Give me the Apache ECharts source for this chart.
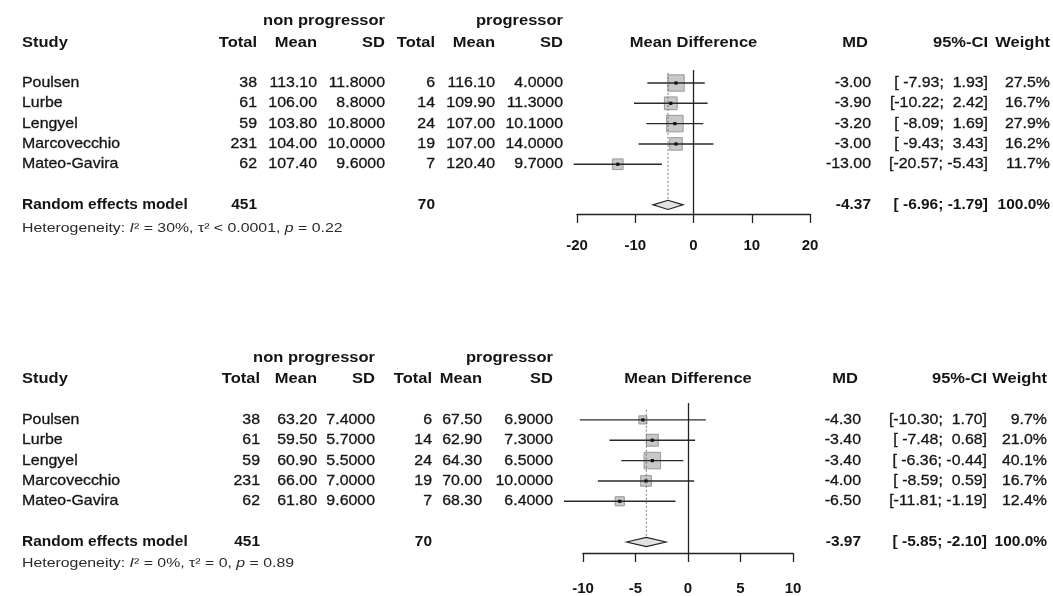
<!DOCTYPE html>
<html>
<head>
<meta charset="utf-8">
<script src="https://cdn.jsdelivr.net/npm/echarts@6/dist/echarts.min.js"></script>
<style>
  html, body { margin: 0; background: #fff; }
  #chart { width: 1053px; height: 596px; }
</style>
</head>
<body>
<div id="chart"></div>
<script>
// studies (same in both panels)
var studies = ['Poulsen', 'Lurbe', 'Lengyel', 'Marcovecchio', 'Mateo-Gavira'];
var nonTotal = [38, 61, 59, 231, 62];
var proTotal = [6, 14, 24, 19, 7];
var sumTotals = [451, 70];

// panel A (top)
var aNonMean = [113.10, 106.00, 103.80, 104.00, 107.40];
var aNonSD = [11.8, 8.8, 10.8, 10.0, 9.6];
var aProMean = [116.10, 109.90, 107.00, 107.00, 120.40];
var aProSD = [4.0, 11.3, 10.1, 14.0, 9.7];
var aMD = [-3.00, -3.90, -3.20, -3.00, -13.00];
var aLo = [-7.93, -10.22, -8.09, -9.43, -20.57];
var aHi = [1.93, 2.42, 1.69, 3.43, -5.43];
var aWeight = [27.5, 16.7, 27.9, 16.2, 11.7];
var aRandom = [-4.37, -6.96, -1.79]; // md, lo, hi
var aHet = ['30%', '< 0.0001', '0.22'];
var aTicks = [-20, 20, 10];

// panel B (bottom)
var bNonMean = [63.20, 59.50, 60.90, 66.00, 61.80];
var bNonSD = [7.4, 5.7, 5.5, 7.0, 9.6];
var bProMean = [67.50, 62.90, 64.30, 70.00, 68.30];
var bProSD = [6.9, 7.3, 6.5, 10.0, 6.4];
var bMD = [-4.30, -3.40, -3.40, -4.00, -6.50];
var bLo = [-10.30, -7.48, -6.36, -8.59, -11.81];
var bHi = [1.70, 0.68, -0.44, 0.59, -1.19];
var bWeight = [9.7, 21.0, 40.1, 16.7, 12.4];
var bRandom = [-3.97, -5.85, -2.10];
var bHet = ['0%', '= 0', '0.89'];
var bTicks = [-10, 10, 5];

var RE_ROW = 6;
var FONT = '"Liberation Sans", Arial, sans-serif';
var INK = '#141414';

var panels = [
  {nonMean: aNonMean, nonSD: aNonSD, proMean: aProMean, proSD: aProSD, md: aMD, lo: aLo, hi: aHi, w: aWeight,
   re: aRandom, het: aHet, ticks: aTicks, hetRow: 7.15,
   grid: {left: 577, top: 70, width: 233, height: 144}, yRange: [-0.64, 6.45], labelMargin: 24,
   col: {total: 257, mean: 317, sd: 385, total2: 435, mean2: 495, sd2: 563, md: 871, ci: 988, w: 1050}},
  {nonMean: bNonMean, nonSD: bNonSD, proMean: bProMean, proSD: bProSD, md: bMD, lo: bLo, hi: bHi, w: bWeight,
   re: bRandom, het: bHet, ticks: bTicks, hetRow: 7.05,
   grid: {left: 583, top: 403, width: 210, height: 151}, yRange: [-0.83, 6.54], labelMargin: 28,
   col: {total: 260, mean: 317, sd: 375, total2: 432, mean2: 482, sd2: 553, md: 861, ci: 987, w: 1047}}
];

function pad(s, n) {
  while (s.length < n) s = ' ' + s;
  return s;
}

function ciText(lo, hi, loW, hiW) {
  return '[' + pad(lo.toFixed(2), loW) + '; ' + pad(hi.toFixed(2), hiW) + ']';
}

var chart = echarts.init(document.getElementById('chart'));

var grids = [], xAxes = [], yAxes = [], series = [];

panels.forEach(function (p, g) {
  grids.push(p.grid);
  xAxes.push({
    type: 'value', gridIndex: g, min: p.ticks[0], max: p.ticks[1], interval: p.ticks[2],
    splitLine: {show: false},
    axisLine: {show: true, onZero: false, lineStyle: {color: '#222', width: 1.3}},
    axisTick: {show: true, length: 9, lineStyle: {color: '#222', width: 1.3}},
    axisLabel: {color: INK, fontFamily: FONT, fontSize: 15, fontWeight: 'bold', margin: p.labelMargin}
  });
  yAxes.push({type: 'value', gridIndex: g, inverse: true, min: p.yRange[0], max: p.yRange[1], show: false});

  var maxW = Math.max.apply(null, p.w);
  var rows = p.md.map(function (m, i) { return [m, p.lo[i], p.hi[i], p.w[i], i]; });

  series.push({
    type: 'custom', xAxisIndex: g, yAxisIndex: g, data: rows, clip: false, silent: true,
    renderItem: function (params, api) {
      var c = api.coord([api.value(0), api.value(4)]);
      var l = api.coord([api.value(1), api.value(4)]);
      var h = api.coord([api.value(2), api.value(4)]);
      var s = 16.5 * Math.sqrt(api.value(3) / maxW);
      return {type: 'group', children: [
        {type: 'rect', shape: {x: c[0] - s / 2, y: c[1] - s / 2, width: s, height: s},
         style: {fill: '#c8c8c8', stroke: '#999', lineWidth: 1}},
        {type: 'line', shape: {x1: l[0], y1: c[1], x2: h[0], y2: c[1]},
         style: {stroke: '#2a2a2a', lineWidth: 1.4}},
        {type: 'rect', shape: {x: c[0] - 1.6, y: c[1] - 1.6, width: 3.2, height: 3.2},
         style: {fill: '#111'}}
      ]};
    },
    markLine: {
      silent: true, symbol: 'none', label: {show: false},
      lineStyle: {color: '#222', width: 1.3, type: 'solid'},
      data: [{xAxis: 0}]
    }
  });

  series.push({
    type: 'custom', xAxisIndex: g, yAxisIndex: g, clip: false, silent: true,
    data: [[p.re[0], p.re[1], p.re[2], RE_ROW]],
    renderItem: function (params, api) {
      var row = api.value(3);
      var c = api.coord([api.value(0), row]);
      var l = api.coord([api.value(1), row]);
      var h = api.coord([api.value(2), row]);
      var top = api.coord([api.value(0), -0.5]);
      var dh = 4.6;
      return {type: 'group', children: [
        {type: 'line', shape: {x1: c[0], y1: top[1], x2: c[0], y2: c[1] - dh},
         style: {stroke: '#777', lineWidth: 1, lineDash: [2, 2]}},
        {type: 'polygon', shape: {points: [[l[0], c[1]], [c[0], c[1] - dh], [h[0], c[1]], [c[0], c[1] + dh]]},
         style: {fill: '#e2e2e2', stroke: '#222', lineWidth: 1.2}}
      ]};
    }
  });
});

chart.setOption({
  animation: false,
  backgroundColor: '#fff',
  grid: grids,
  xAxis: xAxes,
  yAxis: yAxes,
  series: series
});

// table text, placed on the rows of each panel's y axis
// kind: 0 = regular cell, 1 = bold header, 2 = bold summary row
var texts = [];
function txt(g, x, row, s, align, kind) {
  var y = chart.convertToPixel({gridIndex: g}, [0, row])[1];
  var bold = kind > 0;
  texts.push({
    type: 'text', x: x, y: y, silent: true,
    scaleX: kind === 1 ? 1.1 : (kind === 2 ? 1.03 : 1.06),
    style: {
      text: s, fill: INK, font: (bold ? 'bold ' : '') + '15px ' + FONT,
      stroke: bold ? null : INK, lineWidth: bold ? 0 : 0.3,
      align: align, textAlign: align, verticalAlign: 'middle', textVerticalAlign: 'middle'
    }
  });
}

panels.forEach(function (p, g) {
  var c = p.col;
  var zeroX = chart.convertToPixel({gridIndex: g}, [0, 0])[0];
  var h1 = -3.05, h2 = -2;
  txt(g, c.sd, h1, 'non progressor', 'right', 1);
  txt(g, c.sd2, h1, 'progressor', 'right', 1);
  txt(g, 22, h2, 'Study', 'left', 1);
  txt(g, c.total, h2, 'Total', 'right', 1);
  txt(g, c.mean, h2, 'Mean', 'right', 1);
  txt(g, c.sd, h2, 'SD', 'right', 1);
  txt(g, c.total2, h2, 'Total', 'right', 1);
  txt(g, c.mean2, h2, 'Mean', 'right', 1);
  txt(g, c.sd2, h2, 'SD', 'right', 1);
  txt(g, zeroX, h2, 'Mean Difference', 'center', 1);
  txt(g, c.md - 3, h2, 'MD', 'right', 1);
  txt(g, c.ci, h2, '95%-CI', 'right', 1);
  txt(g, c.w, h2, 'Weight', 'right', 1);

  var loW = Math.max.apply(null, p.lo.concat(p.re[1]).map(function (v) { return v.toFixed(2).length; }));
  var hiW = Math.max.apply(null, p.hi.concat(p.re[2]).map(function (v) { return v.toFixed(2).length; }));

  studies.forEach(function (name, i) {
    txt(g, 22, i, name, 'left', 0);
    txt(g, c.total, i, String(nonTotal[i]), 'right', 0);
    txt(g, c.mean, i, p.nonMean[i].toFixed(2), 'right', 0);
    txt(g, c.sd, i, p.nonSD[i].toFixed(4), 'right', 0);
    txt(g, c.total2, i, String(proTotal[i]), 'right', 0);
    txt(g, c.mean2, i, p.proMean[i].toFixed(2), 'right', 0);
    txt(g, c.sd2, i, p.proSD[i].toFixed(4), 'right', 0);
    txt(g, c.md, i, p.md[i].toFixed(2), 'right', 0);
    txt(g, c.ci, i, ciText(p.lo[i], p.hi[i], loW, hiW), 'right', 0);
    txt(g, c.w, i, p.w[i].toFixed(1) + '%', 'right', 0);
  });

  txt(g, 22, RE_ROW, 'Random effects model', 'left', 2);
  txt(g, c.total, RE_ROW, String(sumTotals[0]), 'right', 2);
  txt(g, c.total2, RE_ROW, String(sumTotals[1]), 'right', 2);
  txt(g, c.md, RE_ROW, p.re[0].toFixed(2), 'right', 2);
  txt(g, c.ci, RE_ROW, ciText(p.re[1], p.re[2], loW, hiW), 'right', 2);
  txt(g, c.w, RE_ROW, '100.0%', 'right', 2);

  var hy = chart.convertToPixel({gridIndex: g}, [0, p.hetRow])[1];
  texts.push({
    type: 'text', x: 22, y: hy, silent: true, scaleX: 1.22,
    style: {
      text: '{n|Heterogeneity: }{i|I}{n|\u00b2 = ' + p.het[0] + ', \u03c4\u00b2 ' + p.het[1] + ', }{i|p}{n| = ' + p.het[2] + '}',
      verticalAlign: 'middle', textVerticalAlign: 'middle',
      rich: {
        n: {fontFamily: FONT, fontSize: 13, fill: '#2a2a2a', color: '#2a2a2a'},
        i: {fontFamily: FONT, fontSize: 13, fontStyle: 'italic', fill: '#2a2a2a', color: '#2a2a2a'}
      }
    }
  });
});

chart.setOption({graphic: {elements: texts}});
</script>
</body>
</html>
